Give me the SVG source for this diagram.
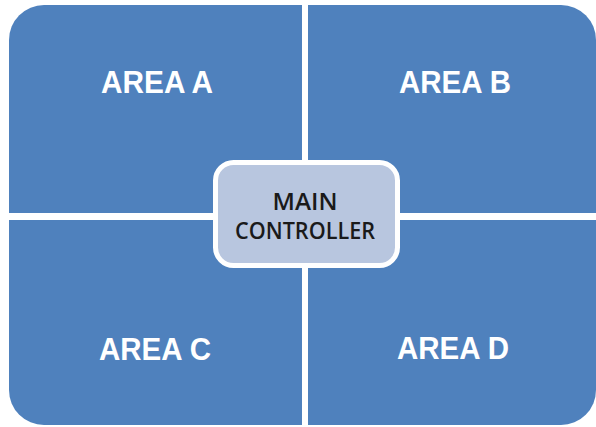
<svg xmlns="http://www.w3.org/2000/svg" width="596" height="427" viewBox="0 0 596 427">
<style>
.q{fill:#4f81bd}
.lbl{font-family:"Liberation Sans",Arial,sans-serif;font-weight:bold;font-size:31px;fill:#ffffff;text-anchor:middle}
.ctr{fill:#b8c6df;stroke:#ffffff;stroke-width:5}
.ctxt{font-family:"Open Sans","Liberation Sans",sans-serif;font-weight:600;font-size:23px;fill:#1a1a1a;text-anchor:middle}
</style>
<rect width="596" height="427" fill="#ffffff"/>
<g id="area-a"><path class="q" d="M44 5 H302 V213 H9 V40 A35 35 0 0 1 44 5 Z"/><text class="lbl" x="157" y="93" textLength="112" lengthAdjust="spacingAndGlyphs">AREA A</text></g>
<g id="area-b"><path class="q" d="M308 5 H561 A35 35 0 0 1 596 40 V213 H308 Z"/><text class="lbl" x="455" y="93" textLength="112" lengthAdjust="spacingAndGlyphs">AREA B</text></g>
<g id="area-c"><path class="q" d="M9 220 H302 V425 H44 A35 35 0 0 1 9 390 Z"/><text class="lbl" x="155" y="360" textLength="112" lengthAdjust="spacingAndGlyphs">AREA C</text></g>
<g id="area-d"><path class="q" d="M308 220 H596 V390 A35 35 0 0 1 561 425 H308 Z"/><text class="lbl" x="453" y="359" textLength="112" lengthAdjust="spacingAndGlyphs">AREA D</text></g>
<g id="connectors"></g>
<g id="main-controller"><rect class="ctr" x="215.5" y="162.5" width="182" height="103" rx="18"/><text class="ctxt" x="305" y="210" textLength="65" lengthAdjust="spacingAndGlyphs">MAIN</text><text class="ctxt" x="305" y="239" textLength="140" lengthAdjust="spacingAndGlyphs">CONTROLLER</text></g>
</svg>
